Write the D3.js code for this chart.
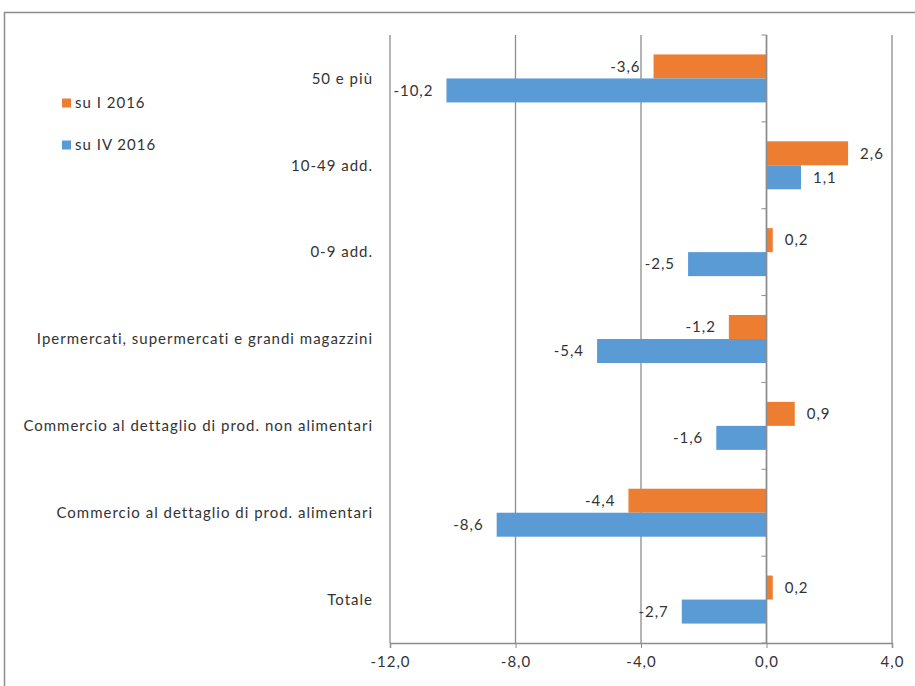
<html>
<head>
<meta charset="utf-8">
<script src="https://d3js.org/d3.v7.min.js"></script>
<style>
body { margin: 0; background: #fff; }
text { font-family: Lato, "Open Sans", sans-serif; fill: #333; letter-spacing: 1px; }
</style>
</head>
<body>
<div id="chart"></div>
<script>
// categories from top to bottom
var categories = ["50 e più", "10-49 add.", "0-9 add.",
  "Ipermercati, supermercati e grandi magazzini",
  "Commercio al dettaglio di prod. non alimentari",
  "Commercio al dettaglio di prod. alimentari",
  "Totale"];
var seriesNames = ["su I 2016", "su IV 2016"];
var suI2016 = [-3.6, 2.6, 0.2, -1.2, 0.9, -4.4, 0.2];
var suIV2016 = [-10.2, 1.1, -2.5, -5.4, -1.6, -8.6, -2.7];
var xTicks = [-12, -8, -4, 0, 4];
var colors = ["#ED7D31", "#5B9BD5"];

var width = 915, height = 686;
var plotLeft = 390, plotRight = 892, plotTop = 35, plotBottom = 643;

var svg = d3.select("#chart").append("svg")
  .attr("width", width).attr("height", height);

// outer frame
svg.append("rect").attr("x", 4.5).attr("y", 12.5)
  .attr("width", 930).attr("height", 700)
  .attr("fill", "none").attr("stroke", "#8c8c8c").attr("stroke-width", 1.5);

var x = d3.scaleLinear().domain([-12, 4]).range([plotLeft, plotRight]);
var y = d3.scaleBand().domain(categories).range([plotTop, plotBottom]);
var inner = d3.scaleBand().domain(seriesNames).range([0, y.bandwidth()]).paddingOuter(0.81).paddingInner(0);

var fmt = function(v) { return d3.format(".1f")(v).replace("\u2212", "-").replace(".", ","); };

// vertical gridlines
svg.append("g").selectAll("line").data(xTicks).enter().append("line")
  .attr("x1", function(d) { return x(d); }).attr("x2", function(d) { return x(d); })
  .attr("y1", plotTop).attr("y2", plotBottom)
  .attr("stroke", "#8c8c8c").attr("stroke-width", 1.3);

// bottom axis
var axB = svg.append("g").attr("transform", "translate(0," + plotBottom + ")")
  .call(d3.axisBottom(x).tickValues(xTicks).tickSize(5).tickPadding(8).tickFormat(fmt));
axB.select(".domain").attr("stroke", "#8c8c8c").attr("stroke-width", 1.5);
axB.selectAll(".tick line").attr("stroke", "#8c8c8c");
axB.selectAll("text").style("font-size", "15px").style("font-family", "Lato, sans-serif").attr("fill", "#333");

// bars
var data = [suI2016, suIV2016];
data.forEach(function(vals, s) {
  var g = svg.append("g");
  g.selectAll("rect").data(vals).enter().append("rect")
    .attr("x", function(d) { return x(Math.min(0, d)); })
    .attr("width", function(d) { return Math.abs(x(d) - x(0)); })
    .attr("y", function(d, i) { return y(categories[i]) + inner(seriesNames[s]); })
    .attr("height", inner.bandwidth())
    .attr("fill", colors[s]);
  g.selectAll("text").data(vals).enter().append("text")
    .attr("x", function(d) { return d < 0 ? x(d) - 13 : x(d) + 12; })
    .attr("y", function(d, i) { return y(categories[i]) + inner(seriesNames[s]) + inner.bandwidth() / 2; })
    .attr("dy", "0.35em")
    .attr("text-anchor", function(d) { return d < 0 ? "end" : "start"; })
    .style("font-size", "15px")
    .text(fmt);
});

// category axis at zero
var axL = svg.append("g").attr("transform", "translate(" + x(0) + ",0)");
axL.append("line").attr("x1", 0).attr("x2", 0).attr("y1", plotTop).attr("y2", plotBottom)
  .attr("stroke", "#8c8c8c").attr("stroke-width", 1.5);
var bounds = categories.map(function(c) { return y(c); }).concat([plotBottom]);
axL.selectAll("line.tk").data(bounds).enter().append("line").attr("class", "tk")
  .attr("x1", -5).attr("x2", 0)
  .attr("y1", function(d) { return d; }).attr("y2", function(d) { return d; })
  .attr("stroke", "#8c8c8c");

// category labels
svg.append("g").selectAll("text").data(categories).enter().append("text")
  .attr("x", 373)
  .attr("y", function(d) { return y(d) + y.bandwidth() / 2; })
  .attr("dy", "0.35em")
  .attr("text-anchor", "end")
  .style("font-size", "15px")
  .text(function(d) { return d; });

// legend
var lg = svg.append("g").selectAll("g").data(seriesNames).enter().append("g")
  .attr("transform", function(d, i) { return "translate(62," + (103 + i * 42) + ")"; });
lg.append("rect").attr("x", 0).attr("y", -4.5).attr("width", 9).attr("height", 9)
  .attr("fill", function(d, i) { return colors[i]; });
lg.append("text").attr("x", 13).attr("dy", "0.35em").style("font-size", "15px")
  .text(function(d) { return d; });
</script>
</body>
</html>
